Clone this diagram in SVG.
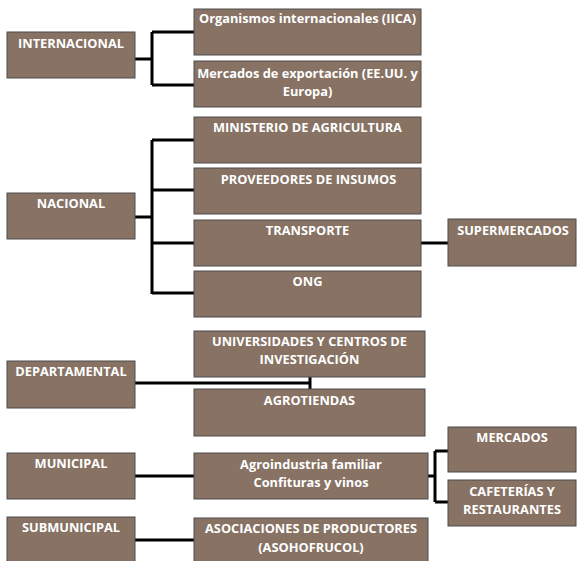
<svg xmlns="http://www.w3.org/2000/svg" width="577" height="561" viewBox="0 0 577 561">
<style>
.box{fill:#877264;stroke:#4d4d4d;stroke-width:1}
.t{font-family:"Open Sans","Liberation Sans",sans-serif;font-weight:bold;font-size:12.8px;fill:#ffffff;text-anchor:middle}
.c{fill:none;stroke:#000;stroke-width:3}
</style>
<rect width="577" height="561" fill="#fff"/>
<g id="connectors">
<path class="c" d="M135,59 H152 M152,32 V85 M152,32 H194 M152,85 H194"/>
<path class="c" d="M135,217 H152 M152,140 V294 M152,140 H194 M152,190 H194 M152,243 H194 M152,293 H194"/>
<path class="c" d="M421,243 H448"/>
<path class="c" d="M135,383 H310 M310,377 V389"/>
<path class="c" d="M135,476 H194"/>
<path class="c" d="M428,476 H435 M435,451 V502 M435,451 H448 M435,502 H448"/>
<path class="c" d="M135,540 H194"/>
</g>
<g id="internacional"><rect class="box" x="7" y="32" width="128" height="46"/><text class="t" x="71" y="48">INTERNACIONAL</text></g>
<g id="organismos"><rect class="box" x="194" y="9" width="227" height="46"/><text class="t" x="307.5" y="23">Organismos internacionales (IICA)</text></g>
<g id="mercados-exportacion"><rect class="box" x="194" y="61" width="227" height="46"/><text class="t" x="307.5" y="78">Mercados de exportación (EE.UU. y</text><text class="t" x="307.5" y="96">Europa)</text></g>
<g id="nacional"><rect class="box" x="7" y="193" width="128" height="46"/><text class="t" x="71" y="208">NACIONAL</text></g>
<g id="ministerio"><rect class="box" x="194" y="117" width="227" height="46"/><text class="t" x="307.5" y="132">MINISTERIO DE AGRICULTURA</text></g>
<g id="proveedores"><rect class="box" x="194" y="168" width="227" height="46"/><text class="t" x="308.5" y="184">PROVEEDORES DE INSUMOS</text></g>
<g id="transporte"><rect class="box" x="194" y="220" width="227" height="46"/><text class="t" x="307.5" y="235">TRANSPORTE</text></g>
<g id="ong"><rect class="box" x="194" y="271" width="227" height="46"/><text class="t" x="307.5" y="286">ONG</text></g>
<g id="supermercados"><rect class="box" x="448" y="219" width="128" height="47"/><text class="t" x="513" y="235">SUPERMERCADOS</text></g>
<g id="departamental"><rect class="box" x="7" y="361" width="128" height="47"/><text class="t" x="71" y="376">DEPARTAMENTAL</text></g>
<g id="universidades"><rect class="box" x="194" y="331" width="231" height="46"/><text class="t" x="309.5" y="346">UNIVERSIDADES Y CENTROS DE</text><text class="t" x="309.5" y="364">INVESTIGACIÓN</text></g>
<g id="agrotiendas"><rect class="box" x="194" y="389" width="231" height="47"/><text class="t" x="309.5" y="405">AGROTIENDAS</text></g>
<g id="municipal"><rect class="box" x="7" y="453" width="128" height="46"/><text class="t" x="71" y="468">MUNICIPAL</text></g>
<g id="agroindustria"><rect class="box" x="194" y="453" width="234" height="46"/><text class="t" x="311" y="469">Agroindustria familiar</text><text class="t" x="311" y="487">Confituras y vinos</text></g>
<g id="mercados"><rect class="box" x="448" y="427" width="128" height="45"/><text class="t" x="512" y="442">MERCADOS</text></g>
<g id="cafeterias"><rect class="box" x="448" y="480" width="128" height="46"/><text class="t" x="512" y="496">CAFETERÍAS Y</text><text class="t" x="512" y="514">RESTAURANTES</text></g>
<g id="submunicipal"><rect class="box" x="7" y="517" width="128" height="46"/><text class="t" x="71" y="532">SUBMUNICIPAL</text></g>
<g id="asociaciones"><rect class="box" x="194" y="518" width="234" height="45"/><text class="t" x="311" y="533">ASOCIACIONES DE PRODUCTORES</text><text class="t" x="311" y="552">(ASOHOFRUCOL)</text></g>
</svg>
